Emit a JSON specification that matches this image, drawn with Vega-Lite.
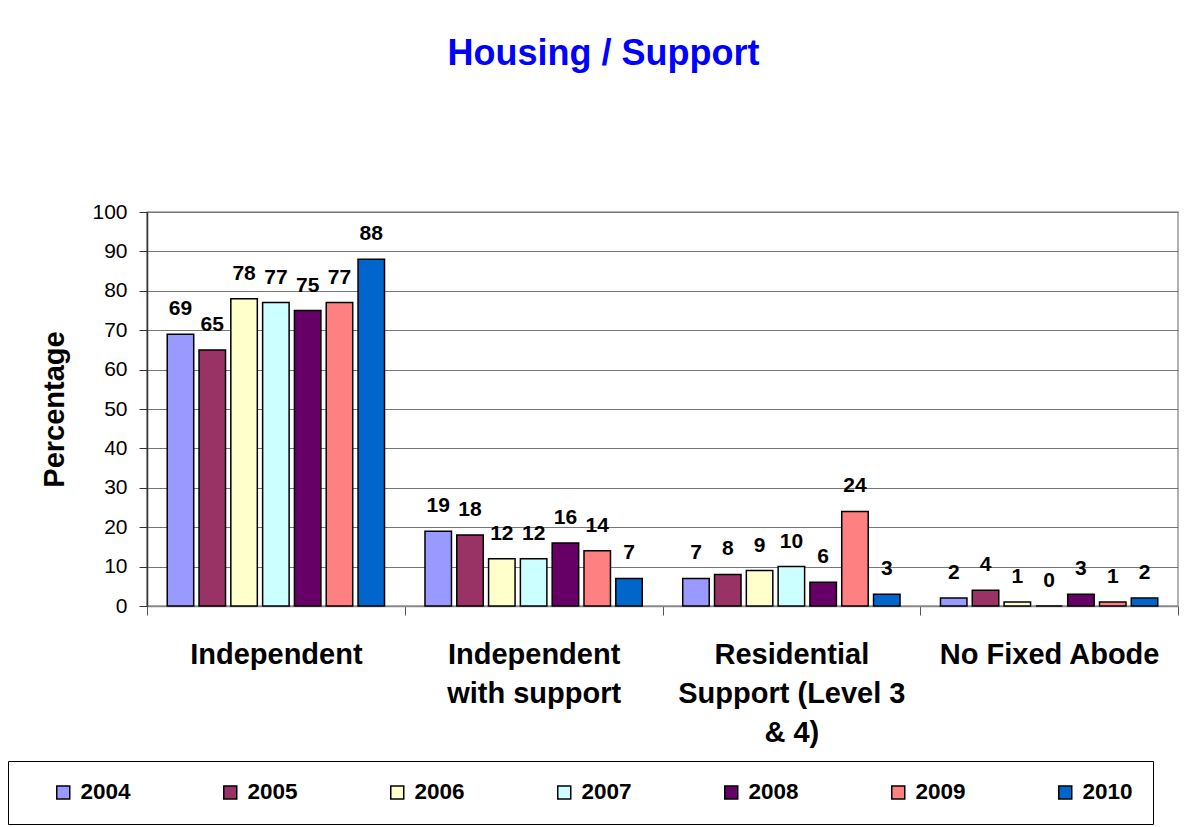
{
  "$schema": "https://vega.github.io/schema/vega-lite/v6.json",
  "width": 1031,
  "height": 394,
  "autosize": {"type": "none"},
  "padding": {"left": 147, "top": 212, "right": 14, "bottom": 221},
  "background": "white",
  "title": {
    "text": "Housing / Support",
    "color": "#0000FF",
    "fontSize": 36,
    "fontWeight": "bold",
    "font": "Liberation Sans",
    "anchor": "middle",
    "dx": -59,
    "offset": 128
  },
  "config": {
    "font": "Liberation Sans",
    "view": {"stroke": "#999999", "strokeWidth": 1.5}
  },
  "data": {
    "values": [
      {"category": "Independent", "year": "2004", "value": 69},
      {"category": "Independent", "year": "2005", "value": 65},
      {"category": "Independent", "year": "2006", "value": 78},
      {"category": "Independent", "year": "2007", "value": 77},
      {"category": "Independent", "year": "2008", "value": 75},
      {"category": "Independent", "year": "2009", "value": 77},
      {"category": "Independent", "year": "2010", "value": 88},
      {"category": "Independent with support", "year": "2004", "value": 19},
      {"category": "Independent with support", "year": "2005", "value": 18},
      {"category": "Independent with support", "year": "2006", "value": 12},
      {"category": "Independent with support", "year": "2007", "value": 12},
      {"category": "Independent with support", "year": "2008", "value": 16},
      {"category": "Independent with support", "year": "2009", "value": 14},
      {"category": "Independent with support", "year": "2010", "value": 7},
      {"category": "Residential Support (Level 3 & 4)", "year": "2004", "value": 7},
      {"category": "Residential Support (Level 3 & 4)", "year": "2005", "value": 8},
      {"category": "Residential Support (Level 3 & 4)", "year": "2006", "value": 9},
      {"category": "Residential Support (Level 3 & 4)", "year": "2007", "value": 10},
      {"category": "Residential Support (Level 3 & 4)", "year": "2008", "value": 6},
      {"category": "Residential Support (Level 3 & 4)", "year": "2009", "value": 24},
      {"category": "Residential Support (Level 3 & 4)", "year": "2010", "value": 3},
      {"category": "No Fixed Abode", "year": "2004", "value": 2},
      {"category": "No Fixed Abode", "year": "2005", "value": 4},
      {"category": "No Fixed Abode", "year": "2006", "value": 1},
      {"category": "No Fixed Abode", "year": "2007", "value": 0},
      {"category": "No Fixed Abode", "year": "2008", "value": 3},
      {"category": "No Fixed Abode", "year": "2009", "value": 1},
      {"category": "No Fixed Abode", "year": "2010", "value": 2}
    ]
  },
  "encoding": {
    "x": {
      "field": "category",
      "type": "nominal",
      "sort": null,
      "scale": {"paddingInner": 0, "paddingOuter": 0},
      "axis": {
        "title": null,
        "labelAngle": 0,
        "labelFontSize": 29,
        "labelFontWeight": "bold",
        "labelColor": "black",
        "labelLineHeight": 39,
        "labelPadding": 25,
        "labelLimit": 300,
        "tickBand": "extent",
        "tickSize": 9,
        "tickColor": "#555555",
        "domainColor": "#888888",
        "domainWidth": 1.5,
        "labelExpr": "datum.label == 'Independent with support' ? ['Independent', 'with support'] : datum.label == 'Residential Support (Level 3 & 4)' ? ['Residential', 'Support (Level 3', '& 4)'] : datum.label"
      }
    },
    "xOffset": {
      "field": "year",
      "type": "nominal",
      "scale": {"paddingInner": 0.167, "paddingOuter": 0.636}
    },
    "y": {
      "field": "value",
      "type": "quantitative",
      "scale": {"domain": [0, 100], "nice": false},
      "axis": {
        "title": "Percentage",
        "titleFontSize": 29,
        "titleFontWeight": "bold",
        "titleColor": "black",
        "titlePadding": 22,
        "values": [0, 10, 20, 30, 40, 50, 60, 70, 80, 90, 100],
        "labelFontSize": 21,
        "labelColor": "black",
        "labelPadding": 12,
        "tickSize": 8,
        "tickColor": "#333333",
        "domainColor": "#333333",
        "domainWidth": 1.5,
        "gridColor": "#777777",
        "gridWidth": 1.2
      }
    }
  },
  "layer": [
    {
      "mark": {"type": "bar", "stroke": "black", "strokeWidth": 1.5},
      "encoding": {
        "color": {
          "field": "year",
          "type": "nominal",
          "scale": {
            "domain": ["2004", "2005", "2006", "2007", "2008", "2009", "2010"],
            "range": ["#9999FF", "#993366", "#FFFFCC", "#CCFFFF", "#660066", "#FF8080", "#0066CC"]
          },
          "legend": {
            "title": null,
            "orient": "none",
            "legendX": -139,
            "legendY": 549,
            "direction": "horizontal",
            "columns": 7,
            "columnPadding": 64,
            "padding": 20,
            "strokeColor": "black",
            "fillColor": "white",
            "symbolType": "square",
            "symbolSize": 169,
            "symbolStrokeColor": "black",
            "symbolStrokeWidth": 1.5,
            "symbolOpacity": 1,
            "symbolOffset": 24,
            "labelFontSize": 22.5,
            "labelFontWeight": "bold",
            "labelColor": "black",
            "labelOffset": 6
          }
        }
      }
    },
    {
      "mark": {
        "type": "text",
        "baseline": "alphabetic",
        "dy": -19,
        "fontSize": 21,
        "fontWeight": "bold",
        "color": "black"
      },
      "encoding": {
        "text": {"field": "value", "type": "quantitative"}
      }
    }
  ]
}
